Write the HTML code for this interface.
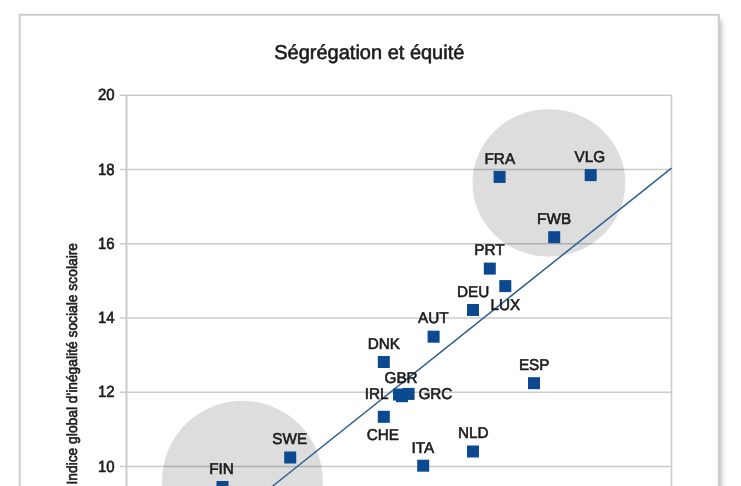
<!DOCTYPE html>
<html lang="fr">
<head>
<meta charset="utf-8">
<title>Ségrégation et équité</title>
<style>
html,body{margin:0;padding:0;background:#fff;}
body{width:741px;height:486px;overflow:hidden;position:relative;font-family:"Liberation Sans",sans-serif;}
svg{position:absolute;left:0;top:0;display:block;}
text{font-family:"Liberation Sans",sans-serif;fill:#1b1b1b;stroke:#1b1b1b;stroke-width:0.6px;stroke-linejoin:round;text-rendering:geometricPrecision;}
</style>
</head>
<body>
<svg width="741" height="486" viewBox="0 0 741 486">
<defs>
<filter id="shb" x="-50%" y="-5%" width="200%" height="110%"><feGaussianBlur stdDeviation="2.4"/></filter>
<filter id="soft" x="-5%" y="-5%" width="110%" height="110%"><feGaussianBlur stdDeviation="0.6"/></filter>
</defs>
<rect x="0" y="0" width="741" height="486" fill="#ffffff"/>
<g filter="url(#soft)">
<!-- frame shadow -->
<rect x="700" y="20" width="21.5" height="490" fill="#bababa" filter="url(#shb)"/>
<!-- frame -->
<rect x="19.7" y="14.8" width="699.1" height="500" fill="#ffffff" stroke="#cccccc" stroke-width="2"/>
<!-- highlight circles -->
<ellipse cx="548.9" cy="182.9" rx="76.4" ry="73.7" fill="#dddddd"/>
<circle cx="242.4" cy="481.2" r="80.4" fill="#dddddd"/>
<!-- grid -->
<g stroke="#000000" opacity="0.2" stroke-width="1.5" fill="none">
<line x1="120" y1="95.2" x2="671.5" y2="95.2"/>
<line x1="120" y1="169.4" x2="671.5" y2="169.4"/>
<line x1="120" y1="243.7" x2="671.5" y2="243.7"/>
<line x1="120" y1="317.9" x2="671.5" y2="317.9"/>
<line x1="120" y1="392.2" x2="671.5" y2="392.2"/>
<line x1="120" y1="466.4" x2="671.5" y2="466.4"/>
<line x1="126.5" y1="95.2" x2="126.5" y2="486" stroke-width="2"/>
<line x1="671.5" y1="95.2" x2="671.5" y2="486" stroke-width="1.6"/>
</g>
<!-- trend line -->
<line x1="271.6" y1="487" x2="671.5" y2="168.1" stroke="#2f5e92" stroke-width="1.5"/>
<!-- points -->
<g fill="#074a91">
<rect x="493.6" y="170.9" width="12.0" height="12.0"/>
<rect x="584.7" y="169.1" width="12.0" height="12.0"/>
<rect x="548.2" y="231.2" width="12.0" height="12.0"/>
<rect x="483.8" y="262.6" width="12.0" height="12.0"/>
<rect x="499.3" y="280.1" width="12.0" height="12.0"/>
<rect x="467.0" y="304.0" width="12.0" height="12.0"/>
<rect x="427.6" y="330.7" width="12.0" height="12.0"/>
<rect x="377.8" y="356.0" width="12.0" height="12.0"/>
<rect x="528.0" y="377.2" width="12.0" height="12.0"/>
<rect x="393.0" y="388.5" width="12.0" height="12.0"/>
<rect x="396.0" y="390.2" width="12.0" height="12.0"/>
<rect x="402.6" y="387.9" width="12.0" height="12.0"/>
<rect x="377.8" y="410.8" width="12.0" height="12.0"/>
<rect x="417.2" y="459.7" width="12.0" height="12.0"/>
<rect x="467.0" y="445.5" width="12.0" height="12.0"/>
<rect x="284.2" y="451.5" width="12.0" height="12.0"/>
<rect x="216.5" y="481.0" width="12.0" height="12.0"/>
</g>
<!-- labels -->
<g font-size="15.3" text-anchor="middle">
<text transform="translate(499.8,164.2) scale(1,1.02)">FRA</text>
<text transform="translate(589.9,162.0) scale(1,1.02)">VLG</text>
<text transform="translate(554.1,223.8) scale(1,1.02)">FWB</text>
<text transform="translate(489.4,254.8) scale(1,1.02)">PRT</text>
<text transform="translate(505.4,310.0) scale(1,1.02)">LUX</text>
<text transform="translate(473.1,296.5) scale(1,1.02)">DEU</text>
<text transform="translate(433.3,323.1) scale(1,1.02)">AUT</text>
<text transform="translate(383.9,349.0) scale(1,1.02)">DNK</text>
<text transform="translate(534.2,370.2) scale(1,1.02)">ESP</text>
<text transform="translate(376.6,399.3) scale(1,1.02)">IRL</text>
<text transform="translate(401.1,383.4) scale(1,1.02)">GBR</text>
<text transform="translate(435.4,398.8) scale(1,1.02)">GRC</text>
<text transform="translate(382.8,439.7) scale(1,1.02)">CHE</text>
<text transform="translate(422.8,452.5) scale(1,1.02)">ITA</text>
<text transform="translate(473.2,438.2) scale(1,1.02)">NLD</text>
<text transform="translate(289.7,444.0) scale(1,1.02)">SWE</text>
<text transform="translate(221.6,473.7) scale(1,1.02)">FIN</text>
</g>
<!-- axis tick labels -->
<g font-size="15" text-anchor="end">
<text transform="translate(114.6,100.3) scale(1,1.08)">20</text>
<text transform="translate(114.6,174.5) scale(1,1.08)">18</text>
<text transform="translate(114.6,248.8) scale(1,1.08)">16</text>
<text transform="translate(114.6,323.0) scale(1,1.08)">14</text>
<text transform="translate(114.6,397.3) scale(1,1.08)">12</text>
<text transform="translate(114.6,471.5) scale(1,1.08)">10</text>
</g>
<text transform="translate(369.3,58.5) scale(1,1.0)" font-size="20" text-anchor="middle">Ségrégation et équité</text>
<text transform="translate(77.1,484.6) rotate(-90) scale(1,1.05)" font-size="14" textLength="241.6" lengthAdjust="spacingAndGlyphs">Indice global d'inégalité sociale scolaire</text>
</g>
</svg>
</body>
</html>
